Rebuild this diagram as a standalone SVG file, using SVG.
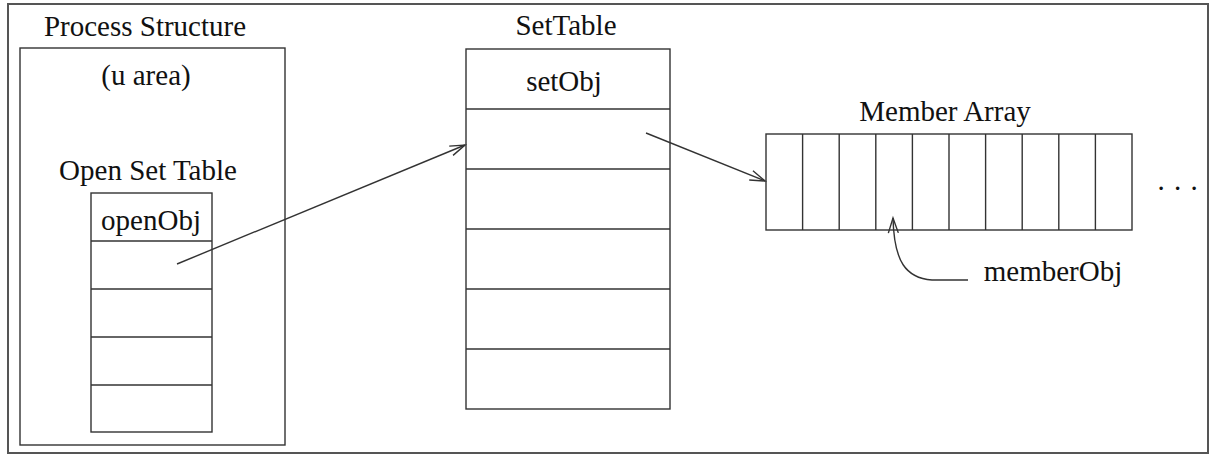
<svg xmlns="http://www.w3.org/2000/svg" width="1211" height="455" viewBox="0 0 1211 455">
<style>
.box{fill:none;stroke:#333;stroke-width:1.4}
.frame{fill:#fff;stroke:#555;stroke-width:2}
.ln{stroke:#333;stroke-width:1.4}
text{font-family:"Liberation Serif","Times New Roman",serif;font-size:29px;fill:#111;text-anchor:middle}
.conn{fill:none;stroke:#333;stroke-width:1.4}
</style>
<defs>
<marker id="arr" markerUnits="userSpaceOnUse" markerWidth="24" markerHeight="16" viewBox="-20 -8 24 16" refX="0" refY="0" orient="auto">
<path d="M -15 -5 L 0 0 L -15 5" fill="none" stroke="#333" stroke-width="1.4"/>
</marker>
</defs>
<rect class="frame" x="8" y="4" width="1200" height="449"/>

<g id="process-structure">
<rect class="box" x="20" y="48" width="265" height="397"/>
<text x="145" y="36">Process Structure</text>
<text x="146" y="85">(u area)</text>
</g>

<g id="open-set-table">
<text x="148" y="180">Open Set Table</text>
<rect class="box" x="91" y="193" width="121" height="239"/>
<line class="ln" x1="91" y1="241" x2="212" y2="241"/>
<line class="ln" x1="91" y1="289" x2="212" y2="289"/>
<line class="ln" x1="91" y1="337" x2="212" y2="337"/>
<line class="ln" x1="91" y1="385" x2="212" y2="385"/>
<text x="151" y="230">openObj</text>
</g>

<g id="set-table">
<text x="566" y="35">SetTable</text>
<rect class="box" x="466" y="49" width="204" height="360"/>
<line class="ln" x1="466" y1="109" x2="670" y2="109"/>
<line class="ln" x1="466" y1="169" x2="670" y2="169"/>
<line class="ln" x1="466" y1="229" x2="670" y2="229"/>
<line class="ln" x1="466" y1="289" x2="670" y2="289"/>
<line class="ln" x1="466" y1="349" x2="670" y2="349"/>
<text x="564" y="91">setObj</text>
</g>

<g id="member-array">
<text x="945" y="121">Member Array</text>
<rect class="box" x="766" y="134" width="366" height="96"/>
<line class="ln" x1="802.6" y1="134" x2="802.6" y2="230"/>
<line class="ln" x1="839.2" y1="134" x2="839.2" y2="230"/>
<line class="ln" x1="875.8" y1="134" x2="875.8" y2="230"/>
<line class="ln" x1="912.4" y1="134" x2="912.4" y2="230"/>
<line class="ln" x1="949" y1="134" x2="949" y2="230"/>
<line class="ln" x1="985.6" y1="134" x2="985.6" y2="230"/>
<line class="ln" x1="1022.2" y1="134" x2="1022.2" y2="230"/>
<line class="ln" x1="1058.8" y1="134" x2="1058.8" y2="230"/>
<line class="ln" x1="1095.4" y1="134" x2="1095.4" y2="230"/>
<text x="1178" y="190" style="letter-spacing:1px">. . .</text>
</g>

<g id="member-obj">
<text x="1053" y="281">memberObj</text>
</g>

<g id="connectors">
<line class="conn" x1="177" y1="264" x2="465" y2="145" marker-end="url(#arr)"/>
<line class="conn" x1="646" y1="133" x2="765" y2="181" marker-end="url(#arr)"/>
<path class="conn" d="M 968 280 L 932 280 C 906 278 894 262 893 218" marker-end="url(#arr)"/>
</g>
</svg>
